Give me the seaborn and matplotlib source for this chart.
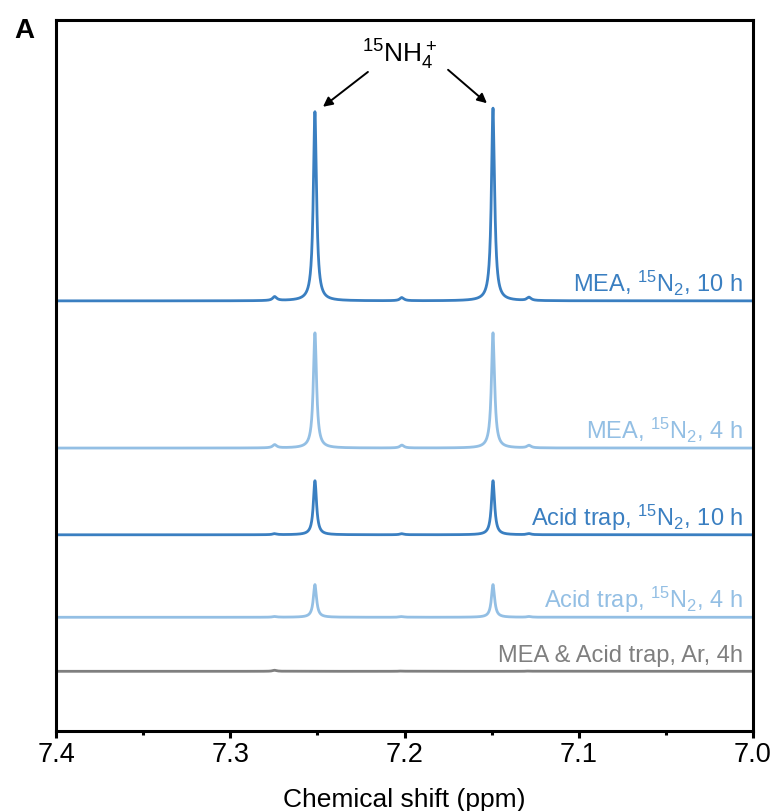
import numpy as np
import pandas as pd
import matplotlib
matplotlib.use("Agg")
import matplotlib.pyplot as plt
import seaborn as sns

# ---- spectra description -------------------------------------------------
samples = ["MEA, 15N2, 10 h", "MEA, 15N2, 4 h", "Acid trap, 15N2, 10 h",
           "Acid trap, 15N2, 4 h", "MEA & Acid trap, Ar, 4h"]
labels = [r"MEA, $\mathregular{^{15}}$N$\mathregular{_2}$, 10 h",
          r"MEA, $\mathregular{^{15}}$N$\mathregular{_2}$, 4 h",
          r"Acid trap, $\mathregular{^{15}}$N$\mathregular{_2}$, 10 h",
          r"Acid trap, $\mathregular{^{15}}$N$\mathregular{_2}$, 4 h",
          "MEA & Acid trap, Ar, 4h"]
colors = ["#3a7fc1", "#93bfe4", "#3a7fc1", "#93bfe4", "#7f7f7f"]

# vertical offsets of each trace (stacked display, arbitrary units)
offsets = [60.5, 39.8, 27.6, 16.0, 8.4]

# 15NH4+ doublet (ppm) and its peak heights per trace
doublet_ppm = [7.2514, 7.1492]
doublet_height = [[26.6, 27.1], [16.2, 16.2], [7.6, 7.6], [4.6, 4.6], [0.0, 0.0]]
doublet_hwhm = 0.0011

# 14NH4+ triplet (ppm) and heights per trace
triplet_ppm = [7.2745, 7.2015, 7.1285]
triplet_height = [[0.55, 0.45, 0.45], [0.45, 0.40, 0.35],
                  [0.15, 0.15, 0.15], [0.10, 0.10, 0.10], [0.15, 0.05, 0.05]]
triplet_hwhm = 0.0014

ppm = np.linspace(7.0, 7.4, 8001)


def lorentz(x, x0, h, g):
    return h / (1.0 + ((x - x0) / g) ** 2)


frames = []
for i, name in enumerate(samples):
    y = np.full_like(ppm, offsets[i])
    for x0, h in zip(doublet_ppm, doublet_height[i]):
        y += lorentz(ppm, x0, h, doublet_hwhm)
    for x0, h in zip(triplet_ppm, triplet_height[i]):
        y += lorentz(ppm, x0, h, triplet_hwhm)
    frames.append(pd.DataFrame({"shift": ppm, "intensity": y, "sample": name}))
df = pd.concat(frames, ignore_index=True)

# ---- figure ----------------------------------------------------------------
sns.set_style("ticks")
plt.rcParams["font.family"] = ["Liberation Sans", "DejaVu Sans"]
plt.rcParams["mathtext.default"] = "regular"
plt.rcParams["text.color"] = "black"
plt.rcParams["axes.labelcolor"] = "black"
plt.rcParams["xtick.color"] = "black"
plt.rcParams["xtick.labelcolor"] = "black"

fig = plt.figure(figsize=(7.75, 8.11), dpi=100)
ax = fig.add_axes([0.0723, 0.0986, 0.8993, 0.8767])

sns.lineplot(data=df, x="shift", y="intensity", hue="sample",
             hue_order=samples, palette=colors, estimator=None, sort=False,
             linewidth=2.0, legend=False, ax=ax)

ax.set_xlim(7.4, 7.0)
ax.set_ylim(0, 100)
ax.set_yticks([])
ax.set_ylabel("")
ax.set_xticks([7.4, 7.3, 7.2, 7.1, 7.0])
ax.set_xticklabels(["7.4", "7.3", "7.2", "7.1", "7.0"])
ax.set_xticks([7.35, 7.25, 7.15, 7.05], minor=True)
ax.tick_params(axis="x", which="major", direction="out", length=5, width=2.2,
               labelsize=19.5, pad=3, color="black", labelcolor="black")
ax.tick_params(axis="x", which="minor", direction="out", length=3, width=2.2,
               color="black")
for sp in ax.spines.values():
    sp.set_visible(True)
    sp.set_linewidth(2.2)
    sp.set_color("black")
ax.set_xlabel("Chemical shift (ppm)", fontsize=19, labelpad=14, color="black")

# trace labels
for i, lab in enumerate(labels):
    ax.text(7.0057, offsets[i] + 1.3, lab, ha="right", va="baseline",
            fontsize=17, color=colors[i])

# peak assignment
ax.text(7.2026, 94.0, r"$\mathregular{^{15}}$NH$\mathregular{_4^+}$",
        ha="center", va="baseline", fontsize=19, color="black")
arrow = dict(arrowstyle="-|>", color="black", lw=1.4, mutation_scale=14,
             shrinkA=0, shrinkB=0)
ax.annotate("", xy=(7.2468, 87.8), xytext=(7.2210, 92.7), arrowprops=arrow)
ax.annotate("", xy=(7.1527, 88.3), xytext=(7.1750, 93.0), arrowprops=arrow)

fig.text(0.018, 0.953, "A", fontsize=20, fontweight="bold", ha="left",
         va="baseline", color="black")

fig.savefig("out.png", dpi=100)
